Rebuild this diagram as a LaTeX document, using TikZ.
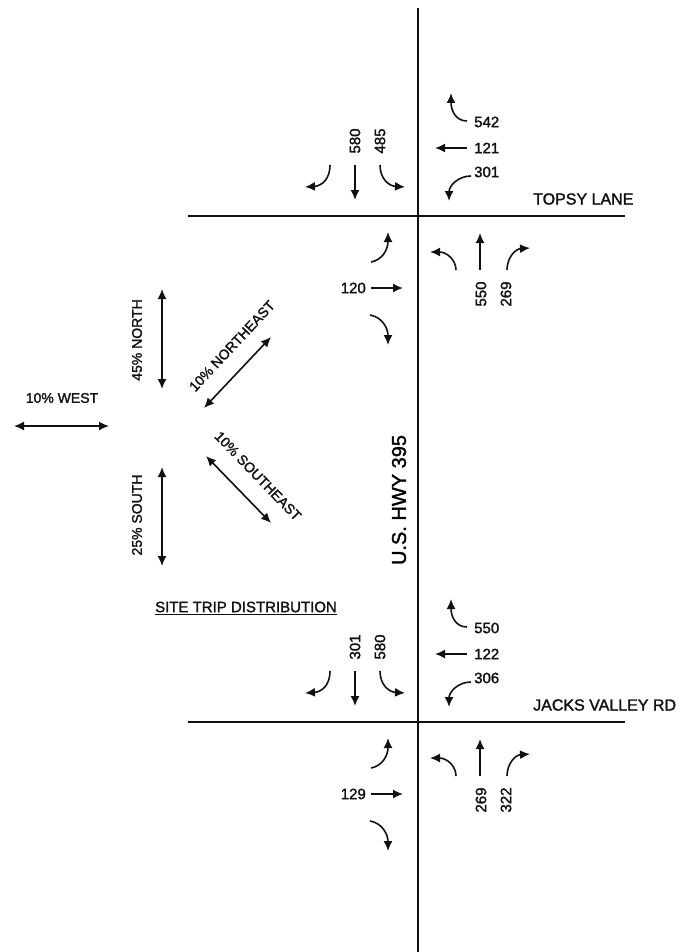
\documentclass[tikz,border=0pt]{standalone}
\usepackage{fontspec}
\setmainfont{Liberation Sans}[FakeBold=1.6]
\usepackage{tikz}
\usetikzlibrary{arrows.meta,positioning,calc}
\definecolor{PlanInk}{HTML}{111111}

\begin{document}
\begin{tikzpicture}[
  x=1pt,y=-1pt,
  road/.style={draw=PlanInk,line width=1.8pt},
  move/.style={-{Latex[length=10pt,width=9pt]},draw=PlanInk,line width=1.6pt},
  both/.style={{Latex[length=10pt,width=9pt]}-{Latex[length=10pt,width=9pt]},draw=PlanInk,line width=1.6pt},
  vol/.style={font=\fontsize{15}{15}\selectfont,inner sep=0pt,text=PlanInk},
  share/.style={font=\fontsize{14}{14}\selectfont,inner sep=0pt,text=PlanInk},
  street/.style={font=\fontsize{16}{16}\selectfont,inner sep=0pt,anchor=west,text=PlanInk}
]
\fill[white] (0,0) rectangle (700,952);
\useasboundingbox (0,0) rectangle (700,952);

% highway
\draw[road,line width=1.2pt] (418,8) -- (418,952);
\node[font=\fontsize{20}{20}\selectfont,rotate=90,inner sep=0pt] (hwy) at (399,500) {U.S. HWY 395};

% the two intersections
\foreach \dy/\sbT/\sbR/\wbU/\wbT/\wbL/\ebT/\nbT/\nbR/\street/\id in
  {0/580/485/542/121/301/120/550/269/TOPSY LANE/a,
   506/301/580/550/122/306/129/269/322/JACKS VALLEY RD/b}
{
\begin{scope}[yshift=-\dy pt]
\draw[road] (188,216) -- (625,216);
\node[street] (st\id) at (533,199) {\street};
% southbound
\draw[move] (330,165) .. controls (330,180) and (321,186) .. (305,187);
\draw[move] (355,165) -- (355,200);
\draw[move] (380,165) .. controls (380,179) and (389,186) .. (405,187);
\node[vol,rotate=90] (sbT\id) at (355,141) {\sbT};
\node[vol,rotate=90] (sbR\id) at (380,141) {\sbR};
% westbound
\draw[move] (467,121) .. controls (456,121) and (451,111) .. (451,93);
\draw[move] (467,148) -- (435,148);
\draw[move] (471,176) .. controls (458,176) and (449,186) .. (449,201);
\node[vol,anchor=west] (wbU\id) at (474,122) {\wbU};
\node[vol,anchor=west] (wbT\id) at (474,148) {\wbT};
\node[vol,anchor=west] (wbL\id) at (474,172) {\wbL};
% eastbound
\draw[move] (371,262) .. controls (382,260) and (388,250) .. (388,232);
\draw[move] (371,288) -- (403,288);
\draw[move] (370,315) .. controls (382,317) and (388,328) .. (388,345);
\node[vol,anchor=east] (ebT\id) at (366,288) {\ebT};
% northbound
\draw[move] (456,270) .. controls (456,260) and (447,252) .. (430,252);
\draw[move] (480,270) -- (480,233);
\draw[move] (507,270) .. controls (507,258) and (515,249) .. (530,248);
\node[vol,rotate=90] (nbT\id) at (481,294) {\nbT};
\node[vol,rotate=90] (nbR\id) at (506,294) {\nbR};
\end{scope}
}

% trip distribution
\draw[both] (162,289) -- (162,389);
\node[share,rotate=90] (north) at (137,340) {45\% NORTH};
\draw[both] (14,426) -- (109,426);
\node[share] (west) at (62,398) {10\% WEST};
\draw[both] (204,408) -- (271,337);
\node[share,rotate=47] (ne) at (232,346) {10\% NORTHEAST};
\draw[both] (206,456) -- (271,523);
\node[share,rotate=-46] (se) at (258,476) {10\% SOUTHEAST};
\draw[both] (162,467) -- (162,566);
\node[share,rotate=90] (south) at (137,515) {25\% SOUTH};
\node[share,font=\fontsize{15}{15}\selectfont] (title) at (246,608) {\underline{SITE TRIP DISTRIBUTION}};
\end{tikzpicture}
\end{document}
